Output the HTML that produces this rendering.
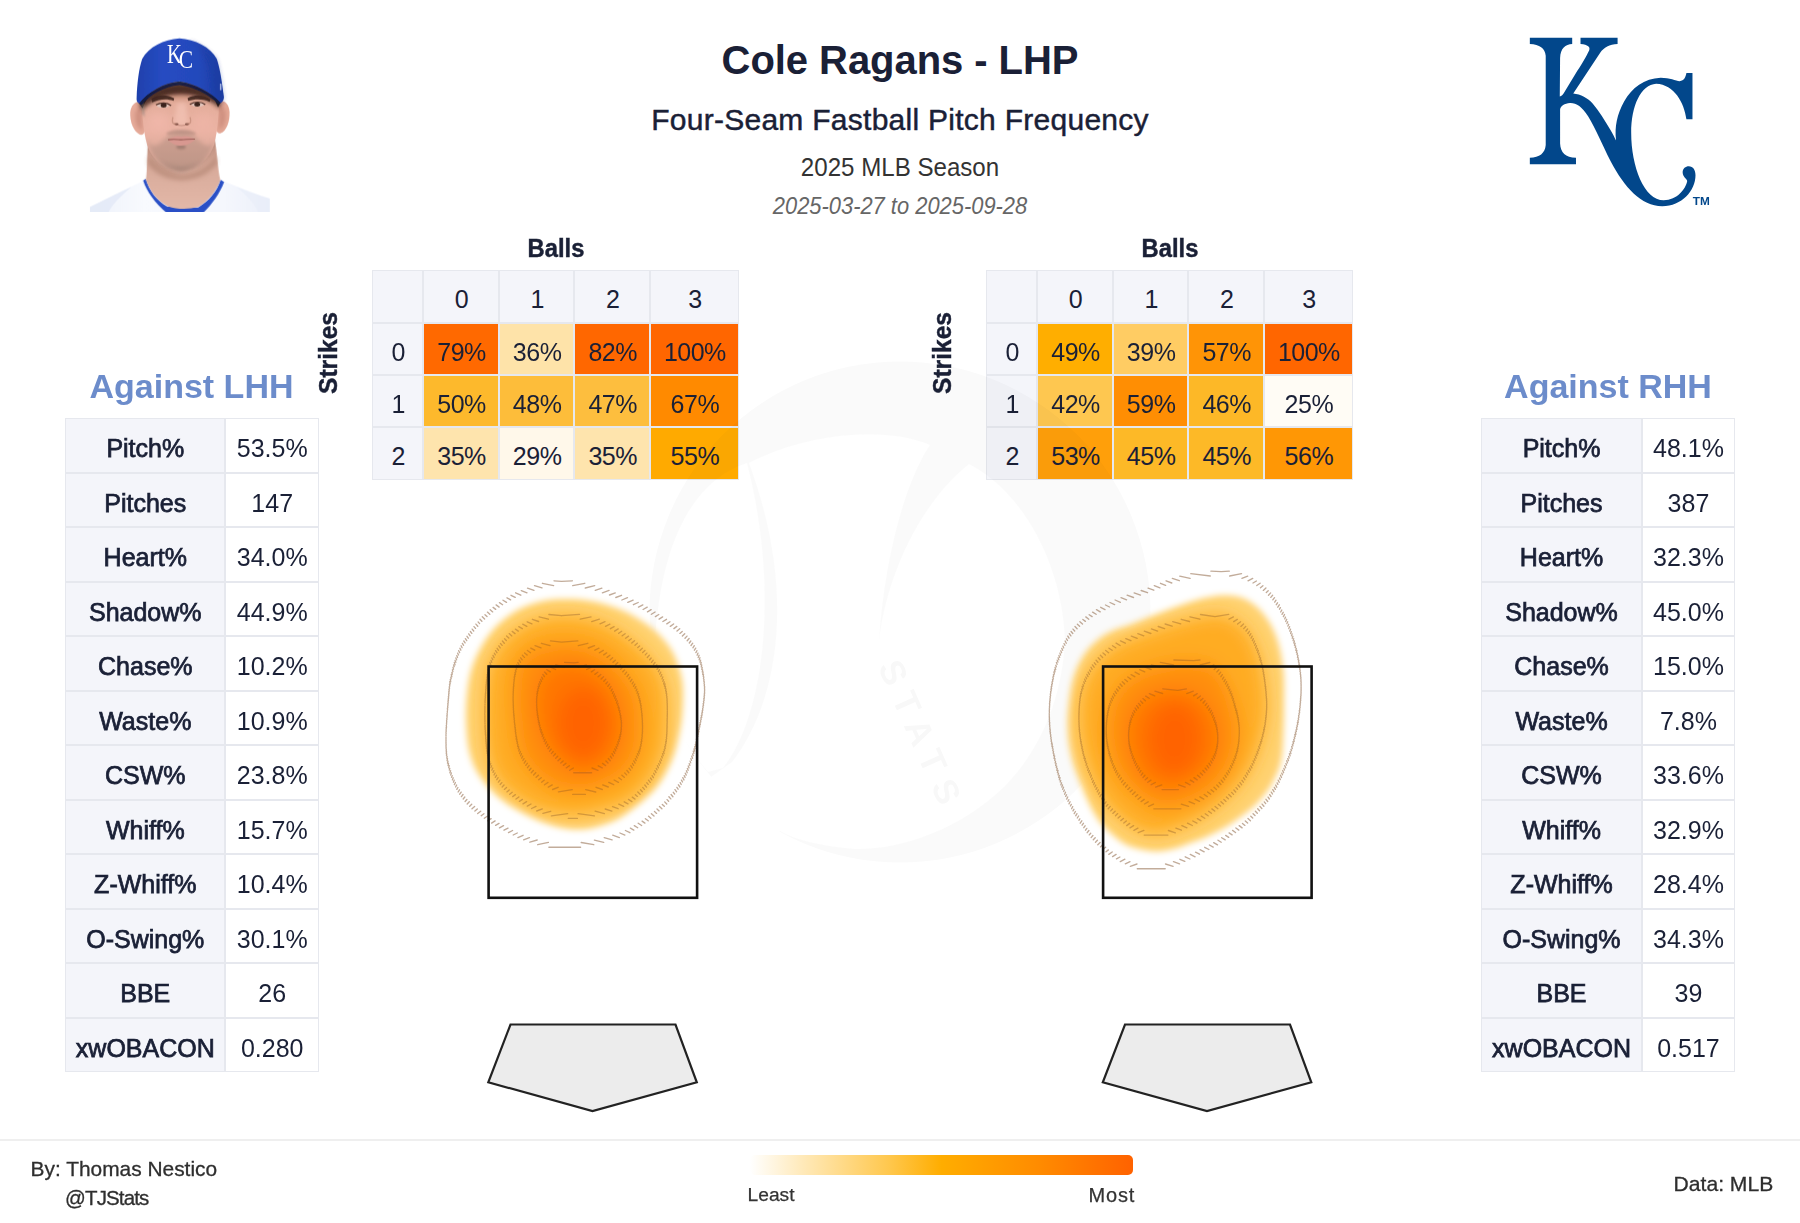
<!DOCTYPE html>
<html lang="en">
<head>
<meta charset="utf-8">
<title>Cole Ragans - LHP - Four-Seam Fastball Pitch Frequency</title>
<style>
html,body{margin:0;padding:0;background:#fff}
body{width:1800px;height:1223px;position:relative;overflow:hidden;font-family:"Liberation Sans",sans-serif;color:#1a2036}
.abs{position:absolute;white-space:nowrap}
.ctr{transform:translateX(-50%)}
.ct,.st{position:absolute;background:#e6e8ee}
.cc,.sl,.sv{position:absolute;box-sizing:border-box;border:1.5px solid #e6e8ee;display:flex;align-items:center;justify-content:center;background-clip:padding-box}
.cc span{font-size:25px;letter-spacing:-.5px;position:relative;top:3.2px;left:.5px}
.sl{background:#f4f5fa;font-size:25px;-webkit-text-stroke:.75px #1a2036}
.sv{background:#fff;font-size:25px}
.sl span{position:relative;top:3.2px}
.sv span{position:relative;top:2.9px}
.hd{font-weight:700;font-size:34px;color:#6c8ccb;letter-spacing:0}
svg{position:absolute;overflow:visible}
</style>
</head>
<body>

<!-- header -->
<svg width="1800" height="1223" viewBox="0 0 1800 1223" style="left:0;top:0" role="img" aria-label="Cole Ragans headshot">
<defs>
<filter id="hb1" filterUnits="userSpaceOnUse" x="0" y="0" width="1300" height="1250"><feGaussianBlur stdDeviation="4.5"/></filter>
<filter id="hb2" filterUnits="userSpaceOnUse" x="0" y="0" width="1300" height="1250"><feGaussianBlur stdDeviation="13"/></filter>
<filter id="hb3" filterUnits="userSpaceOnUse" x="0" y="0" width="1300" height="1250"><feGaussianBlur stdDeviation="26"/></filter>
<filter id="hb4" filterUnits="userSpaceOnUse" x="0" y="0" width="1300" height="1250"><feGaussianBlur stdDeviation="7"/></filter>
<linearGradient id="capg" x1="0" y1="0" x2="1" y2="0"><stop offset="0" stop-color="#1f40ac"/><stop offset=".3" stop-color="#264cc2"/><stop offset=".7" stop-color="#2449bc"/><stop offset="1" stop-color="#1d3ca2"/></linearGradient>
<linearGradient id="faceg" x1="0" y1="0" x2="0" y2="1"><stop offset="0" stop-color="#a86f58"/><stop offset=".24" stop-color="#e4ad9b"/><stop offset=".55" stop-color="#ebb3a4"/><stop offset="1" stop-color="#d2a494"/></linearGradient>
<linearGradient id="neckg" x1="0" y1="0" x2="0" y2="1"><stop offset="0" stop-color="#bf8f7e"/><stop offset=".45" stop-color="#d9ac9c"/><stop offset="1" stop-color="#e3b8a8"/></linearGradient>
<linearGradient id="jerg" x1="0" y1="0" x2="1" y2="0"><stop offset="0" stop-color="#eef2fb"/><stop offset=".3" stop-color="#f8fafe"/><stop offset=".75" stop-color="#f5f7fd"/><stop offset="1" stop-color="#ecf0fa"/></linearGradient>
<clipPath id="hclip"><rect x="64" y="0" width="1157" height="1169"/></clipPath>
</defs>
<g transform="translate(80,30) scale(0.15540)" clip-path="url(#hclip)">
<g filter="url(#hb1)">
<!-- jersey -->
<path d="M64,1180 L64,1138 C160,1090 280,1030 400,975 L420,962 L910,962 L940,980 C1040,1020 1130,1055 1221,1085 L1221,1180 Z" fill="url(#jerg)"/>
<path d="M64,1180 L64,1140 C160,1092 250,1048 330,1010 C260,1070 200,1130 180,1180 Z" fill="#e2e8f6" opacity=".8"/>
<path d="M1221,1180 L1221,1088 C1150,1066 1080,1040 1010,1012 C1080,1070 1130,1130 1150,1180 Z" fill="#e8edf8" opacity=".6"/>
<!-- blue collar -->
<path d="M406,968 C430,1040 480,1110 560,1180 L790,1180 C850,1120 900,1050 927,978 L905,964 C880,1040 830,1100 760,1142 L560,1136 C490,1095 445,1035 422,958 Z" fill="#2a50c6"/>
<!-- neck -->
<path d="M440,700 C428,800 434,900 424,962 C450,1040 500,1100 565,1134 C630,1156 700,1154 762,1138 C830,1096 875,1040 903,966 C886,900 884,800 866,700 Z" fill="url(#neckg)"/>
<path d="M440,810 C520,900 640,930 650,930 C740,925 830,880 878,810 L880,860 C820,940 740,965 650,968 C560,965 480,930 436,860 Z" fill="#a87a68" opacity=".5" filter="url(#hb2)"/>
<!-- ears -->
<path d="M408,466 C372,448 328,470 323,530 C320,592 345,652 382,672 C402,680 416,664 420,640 Z" fill="#e6ab9a"/>
<path d="M884,462 C920,444 957,466 962,526 C965,588 942,648 906,664 C890,670 878,656 874,638 Z" fill="#e4a896"/>
<path d="M398,500 C366,495 350,530 356,572 C362,612 380,642 402,648 Z" fill="#c07f70" opacity=".6" filter="url(#hb2)"/>
<path d="M894,496 C926,491 942,526 936,568 C930,608 912,638 890,644 Z" fill="#c07f70" opacity=".6" filter="url(#hb2)"/>
<!-- face -->
<path d="M398,380 C396,520 404,640 432,740 C462,830 540,900 650,912 C760,900 830,830 862,740 C888,640 896,520 894,380 C800,320 500,320 398,380 Z" fill="url(#faceg)"/>
<ellipse cx="505" cy="590" rx="72" ry="62" fill="#f2b8ab" opacity=".75" filter="url(#hb3)"/>
<ellipse cx="795" cy="590" rx="66" ry="60" fill="#f0b6a8" opacity=".65" filter="url(#hb3)"/>
<!-- stubble: jaw, moustache, chin -->
<path d="M430,690 C462,790 520,730 566,680 C620,650 690,650 736,680 C782,730 838,790 866,690 C852,800 780,892 650,910 C520,894 446,800 430,690 Z" fill="#8e7468" opacity=".30" filter="url(#hb2)"/>
<path d="M462,790 C515,872 598,902 650,904 C702,902 785,872 838,790 C805,852 722,884 650,886 C578,884 495,852 462,790 Z" fill="#77625a" opacity=".45" filter="url(#hb2)"/>
<path d="M560,668 C600,640 700,640 742,668 C700,660 600,660 560,668 Z" fill="#8a6e64" stroke="#8a6e64" stroke-width="14" opacity=".35" filter="url(#hb4)"/>
<ellipse cx="650" cy="752" rx="30" ry="15" fill="#806258" opacity=".5" filter="url(#hb4)"/>
<!-- shadow under brim -->
<path d="M380,470 C440,396 540,350 640,344 C740,350 840,390 906,462 L900,505 C840,445 740,415 650,413 C560,415 470,445 396,517 Z" fill="#4a2a20" opacity=".9" filter="url(#hb2)"/>
<path d="M420,420 C480,380 560,362 640,360 C720,362 800,380 870,420 L868,452 C800,420 720,404 648,403 C570,404 490,424 424,458 Z" fill="#4a2a20" opacity=".55" filter="url(#hb4)"/>
<path d="M374,462 C400,420 440,392 482,370 C452,410 422,452 402,504 Z" fill="#241618" opacity=".9" filter="url(#hb1)"/>
<path d="M912,452 C888,414 850,388 808,368 C838,405 868,447 888,498 Z" fill="#241618" opacity=".9" filter="url(#hb1)"/>
<path d="M396,470 L412,470 L414,560 L400,540 Z" fill="#8d8078" opacity=".6" filter="url(#hb4)"/>
<!-- brows & eyes -->
<path d="M460,442 C505,414 562,414 606,440 L602,456 C560,440 510,444 464,466 Z" fill="#40261e" opacity=".9"/>
<path d="M692,438 C738,412 795,414 838,446 L834,462 C792,442 740,442 696,456 Z" fill="#40261e" opacity=".9"/>
<ellipse cx="533" cy="486" rx="40" ry="13" fill="#e3c6bd"/>
<ellipse cx="757" cy="480" rx="40" ry="13" fill="#e3c6bd"/>
<ellipse cx="538" cy="485" rx="19" ry="14" fill="#3a241c"/>
<ellipse cx="754" cy="479" rx="19" ry="14" fill="#3a241c"/>
<path d="M488,482 C520,464 560,464 586,486" stroke="#4a2c24" stroke-width="8" fill="none"/>
<path d="M706,478 C740,460 780,460 806,480" stroke="#4a2c24" stroke-width="8" fill="none"/>
<!-- nose -->
<path d="M624,470 C616,540 604,580 610,602 C630,622 670,622 692,602 C696,580 686,540 680,470 Z" fill="#f1c0b1" opacity=".9" filter="url(#hb2)"/>
<ellipse cx="621" cy="606" rx="13" ry="7" fill="#6d4035" opacity=".85"/>
<ellipse cx="688" cy="606" rx="13" ry="7" fill="#6d4035" opacity=".85"/>
<path d="M604,600 C625,620 680,620 702,600" stroke="#a86f60" stroke-width="7" fill="none" opacity=".6"/>
<path d="M598,560 C590,585 596,602 610,608" stroke="#b47d6c" stroke-width="8" fill="none" opacity=".55"/>
<path d="M708,560 C716,585 710,602 696,608" stroke="#b47d6c" stroke-width="8" fill="none" opacity=".55"/>
<!-- mouth -->
<path d="M566,706 C600,684 632,678 652,688 C672,678 704,682 740,704 C714,730 690,742 652,744 C614,742 590,730 566,706 Z" fill="#d89890"/>
<path d="M566,706 C610,700 630,706 652,706 C680,706 700,700 740,702" stroke="#8f544c" stroke-width="7" fill="none" opacity=".85"/>
<!-- cap crown (bottom edge = brim arc) -->
<path d="M380,474 C368,466 362,452 364,436 C368,340 378,250 400,185 C440,110 540,60 640,54 C740,60 840,110 880,185 C902,250 914,340 926,432 C926,448 918,462 906,470 C840,400 740,346 640,330 C540,340 440,396 380,474 Z" fill="url(#capg)"/>
<path d="M700,62 C800,100 850,150 880,185 C902,250 914,340 926,432 C926,448 918,462 906,470 C888,450 870,432 850,416 C850,300 820,160 700,62 Z" fill="#1c3a9c" opacity=".3" filter="url(#hb2)"/>
<path d="M380,474 C440,396 540,340 640,330 C740,346 840,400 906,470 C900,474 894,476 888,474 C830,416 740,368 640,354 C540,364 452,414 398,480 C390,480 384,478 380,474 Z" fill="#141c44" opacity=".92"/>
<rect x="900" y="345" width="10" height="42" fill="#cfd8f3" opacity=".75"/>
</g>
<!-- cap insignia -->
<g filter="url(#hb1)" fill="#fff" font-family="'Liberation Serif',serif">
<text x="560" y="215" font-size="170" textLength="95" lengthAdjust="spacingAndGlyphs">K</text>
<text x="636" y="243" font-size="165" textLength="92" lengthAdjust="spacingAndGlyphs">C</text>
</g>
</g>
</svg>
<div class="abs ctr" style="left:900px;top:37px;font-size:40px;font-weight:700;letter-spacing:-.06px;line-height:46px">Cole Ragans - LHP</div>
<div class="abs ctr" style="left:900px;top:102px;font-size:30px;letter-spacing:.27px;line-height:36px;-webkit-text-stroke:.45px #1a2036">Four-Seam Fastball Pitch Frequency</div>
<div class="abs" style="left:900px;top:151.6px;font-size:25.5px;line-height:30px;color:#333;transform:translateX(-50%) scaleX(.945)">2025 MLB Season</div>
<div class="abs" style="left:900px;top:192.4px;font-size:23.6px;font-style:italic;line-height:28px;color:#666;transform:translateX(-50%) scaleX(.928)">2025-03-27 to 2025-09-28</div>
<svg width="1800" height="1223" viewBox="0 0 1800 1223" style="left:0;top:0" role="img" aria-label="Kansas City Royals logo">
<g transform="translate(1520,30) scale(0.15129)"><path d="M65,52 L345,52 L345,93 C300,97 268,120 265,185 L263,440 C275,436 283,428 290,417 L379,270 C410,222 440,170 457,135 C466,114 450,97 400,93 L400,52 L645,52 L645,93 C590,97 555,115 530,150 L352,420 C400,424 450,452 480,485 C520,530 560,595 600,665 C615,690 625,712 635,730 C625,640 640,560 690,470 C740,380 820,320 930,315 C990,315 1030,335 1055,338 C1085,338 1095,310 1100,285 L1140,285 L1140,590 L1100,590 C1085,480 1020,360 900,355 C800,360 735,500 735,680 C735,900 820,1125 950,1125 C1040,1125 1095,1050 1105,1000 C1108,985 1075,975 1075,940 C1075,915 1095,900 1115,900 C1145,900 1160,925 1160,960 C1160,1060 1070,1165 940,1165 C800,1165 690,1040 600,870 C540,750 500,650 450,570 C410,505 370,480 330,482 C295,485 268,500 265,525 L265,750 C268,810 300,842 370,845 L370,888 L65,888 L65,845 C130,842 165,815 170,760 L170,170 C165,120 130,97 65,93 Z" fill="#02478b"/></g>
<text x="1692.8" y="205" font-family="'Liberation Sans',sans-serif" font-size="11.8" font-weight="700" fill="#02478b" letter-spacing=".1">TM</text>
</svg>

<!-- count tables -->
<div class="abs" style="left:555.5px;top:233.9px;font-size:25px;font-weight:700;line-height:28px;transform:translateX(-50%) scaleX(.95);-webkit-text-stroke:.45px #1a2036">Balls</div>
<div class="abs" style="left:327.5px;top:353px;font-size:26.6px;font-weight:700;line-height:28px;transform:translate(-50%,-50%) rotate(-90deg) scaleX(.925);-webkit-text-stroke:.45px #1a2036">Strikes</div>
<div class="ct" style="left:372.2px;top:270.1px;width:366.5px;height:209.9px">
<div class="cc" style="left:0.0px;top:0.0px;width:51.0px;height:52.7px;background:#f4f5fa"><span></span></div>
<div class="cc" style="left:51.0px;top:0.0px;width:75.7px;height:52.7px;background:#f4f5fa"><span>0</span></div>
<div class="cc" style="left:126.7px;top:0.0px;width:75.5px;height:52.7px;background:#f4f5fa"><span>1</span></div>
<div class="cc" style="left:202.2px;top:0.0px;width:75.7px;height:52.7px;background:#f4f5fa"><span>2</span></div>
<div class="cc" style="left:277.9px;top:0.0px;width:88.6px;height:52.7px;background:#f4f5fa"><span>3</span></div>
<div class="cc" style="left:0.0px;top:52.7px;width:51.0px;height:52.3px;background:#f4f5fa"><span>0</span></div>
<div class="cc" style="left:51.0px;top:52.7px;width:75.7px;height:52.3px;background:#ff6900"><span>79%</span></div>
<div class="cc" style="left:126.7px;top:52.7px;width:75.5px;height:52.3px;background:#fee3a9"><span>36%</span></div>
<div class="cc" style="left:202.2px;top:52.7px;width:75.7px;height:52.3px;background:#ff6700"><span>82%</span></div>
<div class="cc" style="left:277.9px;top:52.7px;width:88.6px;height:52.3px;background:#ff6600"><span>100%</span></div>
<div class="cc" style="left:0.0px;top:105.0px;width:51.0px;height:52.4px;background:#f4f5fa"><span>1</span></div>
<div class="cc" style="left:51.0px;top:105.0px;width:75.7px;height:52.4px;background:#fdb92c"><span>50%</span></div>
<div class="cc" style="left:126.7px;top:105.0px;width:75.5px;height:52.4px;background:#fdbd3a"><span>48%</span></div>
<div class="cc" style="left:202.2px;top:105.0px;width:75.7px;height:52.4px;background:#fdbe3e"><span>47%</span></div>
<div class="cc" style="left:277.9px;top:105.0px;width:88.6px;height:52.4px;background:#ff8a00"><span>67%</span></div>
<div class="cc" style="left:0.0px;top:157.4px;width:51.0px;height:52.5px;background:#f4f5fa"><span>2</span></div>
<div class="cc" style="left:51.0px;top:157.4px;width:75.7px;height:52.5px;background:#fee4ad"><span>35%</span></div>
<div class="cc" style="left:126.7px;top:157.4px;width:75.5px;height:52.5px;background:#fff8ea"><span>29%</span></div>
<div class="cc" style="left:202.2px;top:157.4px;width:75.7px;height:52.5px;background:#fee4ad"><span>35%</span></div>
<div class="cc" style="left:277.9px;top:157.4px;width:88.6px;height:52.5px;background:#ffaa00"><span>55%</span></div>
</div>
<div class="abs" style="left:1170px;top:233.9px;font-size:25px;font-weight:700;line-height:28px;transform:translateX(-50%) scaleX(.95);-webkit-text-stroke:.45px #1a2036">Balls</div>
<div class="abs" style="left:942px;top:353px;font-size:26.6px;font-weight:700;line-height:28px;transform:translate(-50%,-50%) rotate(-90deg) scaleX(.925);-webkit-text-stroke:.45px #1a2036">Strikes</div>
<div class="ct" style="left:986.2px;top:270.1px;width:366.5px;height:209.9px">
<div class="cc" style="left:0.0px;top:0.0px;width:51.0px;height:52.7px;background:#f4f5fa"><span></span></div>
<div class="cc" style="left:51.0px;top:0.0px;width:75.7px;height:52.7px;background:#f4f5fa"><span>0</span></div>
<div class="cc" style="left:126.7px;top:0.0px;width:75.5px;height:52.7px;background:#f4f5fa"><span>1</span></div>
<div class="cc" style="left:202.2px;top:0.0px;width:75.7px;height:52.7px;background:#f4f5fa"><span>2</span></div>
<div class="cc" style="left:277.9px;top:0.0px;width:88.6px;height:52.7px;background:#f4f5fa"><span>3</span></div>
<div class="cc" style="left:0.0px;top:52.7px;width:51.0px;height:52.3px;background:#f4f5fa"><span>0</span></div>
<div class="cc" style="left:51.0px;top:52.7px;width:75.7px;height:52.3px;background:#ffae00"><span>49%</span></div>
<div class="cc" style="left:126.7px;top:52.7px;width:75.5px;height:52.3px;background:#ffcc63"><span>39%</span></div>
<div class="cc" style="left:202.2px;top:52.7px;width:75.7px;height:52.3px;background:#ff9406"><span>57%</span></div>
<div class="cc" style="left:277.9px;top:52.7px;width:88.6px;height:52.3px;background:#ff6600"><span>100%</span></div>
<div class="cc" style="left:0.0px;top:105.0px;width:51.0px;height:52.4px;background:#f4f5fa"><span>1</span></div>
<div class="cc" style="left:51.0px;top:105.0px;width:75.7px;height:52.4px;background:#fec750"><span>42%</span></div>
<div class="cc" style="left:126.7px;top:105.0px;width:75.5px;height:52.4px;background:#ff8e03"><span>59%</span></div>
<div class="cc" style="left:202.2px;top:105.0px;width:75.7px;height:52.4px;background:#fdb827"><span>46%</span></div>
<div class="cc" style="left:277.9px;top:105.0px;width:88.6px;height:52.4px;background:#fffcf5"><span>25%</span></div>
<div class="cc" style="left:0.0px;top:157.4px;width:51.0px;height:52.5px;background:#f4f5fa"><span>2</span></div>
<div class="cc" style="left:51.0px;top:157.4px;width:75.7px;height:52.5px;background:#ff9f0a"><span>53%</span></div>
<div class="cc" style="left:126.7px;top:157.4px;width:75.5px;height:52.5px;background:#fdb927"><span>45%</span></div>
<div class="cc" style="left:202.2px;top:157.4px;width:75.7px;height:52.5px;background:#fdb927"><span>45%</span></div>
<div class="cc" style="left:277.9px;top:157.4px;width:88.6px;height:52.5px;background:#ff9705"><span>56%</span></div>
</div>

<!-- stats tables -->
<div class="abs ctr hd" style="left:191.5px;top:367.2px;line-height:38px">Against LHH</div>
<div class="st" style="left:65.2px;top:418.4px;width:253.9px;height:654.0px">
<div class="sl" style="left:0;top:0.0px;width:160.2px;height:54.5px"><span>Pitch%</span></div><div class="sv" style="left:160.2px;top:0.0px;width:93.7px;height:54.5px"><span>53.5%</span></div>
<div class="sl" style="left:0;top:54.5px;width:160.2px;height:54.5px"><span>Pitches</span></div><div class="sv" style="left:160.2px;top:54.5px;width:93.7px;height:54.5px"><span>147</span></div>
<div class="sl" style="left:0;top:109.0px;width:160.2px;height:54.5px"><span>Heart%</span></div><div class="sv" style="left:160.2px;top:109.0px;width:93.7px;height:54.5px"><span>34.0%</span></div>
<div class="sl" style="left:0;top:163.5px;width:160.2px;height:54.5px"><span>Shadow%</span></div><div class="sv" style="left:160.2px;top:163.5px;width:93.7px;height:54.5px"><span>44.9%</span></div>
<div class="sl" style="left:0;top:218.0px;width:160.2px;height:54.5px"><span>Chase%</span></div><div class="sv" style="left:160.2px;top:218.0px;width:93.7px;height:54.5px"><span>10.2%</span></div>
<div class="sl" style="left:0;top:272.5px;width:160.2px;height:54.5px"><span>Waste%</span></div><div class="sv" style="left:160.2px;top:272.5px;width:93.7px;height:54.5px"><span>10.9%</span></div>
<div class="sl" style="left:0;top:327.0px;width:160.2px;height:54.5px"><span>CSW%</span></div><div class="sv" style="left:160.2px;top:327.0px;width:93.7px;height:54.5px"><span>23.8%</span></div>
<div class="sl" style="left:0;top:381.5px;width:160.2px;height:54.5px"><span>Whiff%</span></div><div class="sv" style="left:160.2px;top:381.5px;width:93.7px;height:54.5px"><span>15.7%</span></div>
<div class="sl" style="left:0;top:436.0px;width:160.2px;height:54.5px"><span>Z-Whiff%</span></div><div class="sv" style="left:160.2px;top:436.0px;width:93.7px;height:54.5px"><span>10.4%</span></div>
<div class="sl" style="left:0;top:490.5px;width:160.2px;height:54.5px"><span>O-Swing%</span></div><div class="sv" style="left:160.2px;top:490.5px;width:93.7px;height:54.5px"><span>30.1%</span></div>
<div class="sl" style="left:0;top:545.0px;width:160.2px;height:54.5px"><span>BBE</span></div><div class="sv" style="left:160.2px;top:545.0px;width:93.7px;height:54.5px"><span>26</span></div>
<div class="sl" style="left:0;top:599.5px;width:160.2px;height:54.5px"><span>xwOBACON</span></div><div class="sv" style="left:160.2px;top:599.5px;width:93.7px;height:54.5px"><span>0.280</span></div>
</div>
<div class="abs ctr hd" style="left:1608px;top:367.2px;line-height:38px">Against RHH</div>
<div class="st" style="left:1481.2px;top:418.4px;width:253.9px;height:654.0px">
<div class="sl" style="left:0;top:0.0px;width:160.7px;height:54.5px"><span>Pitch%</span></div><div class="sv" style="left:160.7px;top:0.0px;width:93.2px;height:54.5px"><span>48.1%</span></div>
<div class="sl" style="left:0;top:54.5px;width:160.7px;height:54.5px"><span>Pitches</span></div><div class="sv" style="left:160.7px;top:54.5px;width:93.2px;height:54.5px"><span>387</span></div>
<div class="sl" style="left:0;top:109.0px;width:160.7px;height:54.5px"><span>Heart%</span></div><div class="sv" style="left:160.7px;top:109.0px;width:93.2px;height:54.5px"><span>32.3%</span></div>
<div class="sl" style="left:0;top:163.5px;width:160.7px;height:54.5px"><span>Shadow%</span></div><div class="sv" style="left:160.7px;top:163.5px;width:93.2px;height:54.5px"><span>45.0%</span></div>
<div class="sl" style="left:0;top:218.0px;width:160.7px;height:54.5px"><span>Chase%</span></div><div class="sv" style="left:160.7px;top:218.0px;width:93.2px;height:54.5px"><span>15.0%</span></div>
<div class="sl" style="left:0;top:272.5px;width:160.7px;height:54.5px"><span>Waste%</span></div><div class="sv" style="left:160.7px;top:272.5px;width:93.2px;height:54.5px"><span>7.8%</span></div>
<div class="sl" style="left:0;top:327.0px;width:160.7px;height:54.5px"><span>CSW%</span></div><div class="sv" style="left:160.7px;top:327.0px;width:93.2px;height:54.5px"><span>33.6%</span></div>
<div class="sl" style="left:0;top:381.5px;width:160.7px;height:54.5px"><span>Whiff%</span></div><div class="sv" style="left:160.7px;top:381.5px;width:93.2px;height:54.5px"><span>32.9%</span></div>
<div class="sl" style="left:0;top:436.0px;width:160.7px;height:54.5px"><span>Z-Whiff%</span></div><div class="sv" style="left:160.7px;top:436.0px;width:93.2px;height:54.5px"><span>28.4%</span></div>
<div class="sl" style="left:0;top:490.5px;width:160.7px;height:54.5px"><span>O-Swing%</span></div><div class="sv" style="left:160.7px;top:490.5px;width:93.2px;height:54.5px"><span>34.3%</span></div>
<div class="sl" style="left:0;top:545.0px;width:160.7px;height:54.5px"><span>BBE</span></div><div class="sv" style="left:160.7px;top:545.0px;width:93.2px;height:54.5px"><span>39</span></div>
<div class="sl" style="left:0;top:599.5px;width:160.7px;height:54.5px"><span>xwOBACON</span></div><div class="sv" style="left:160.7px;top:599.5px;width:93.2px;height:54.5px"><span>0.517</span></div>
</div>

<!-- watermark -->
<svg width="1800" height="1223" viewBox="0 0 1800 1223" style="left:0;top:0">
<defs><mask id="wmk" maskUnits="userSpaceOnUse" x="640" y="350" width="520" height="520">
<rect x="640" y="350" width="520" height="520" fill="#fff"/>
<path d="M747,463 C700,478 662,530 655,640 C657,690 676,735 708,772 L723,768 C764,716 780,592 747,463 Z" fill="#000"/>
<path d="M749,463 C800,436 880,424 930,445 C905,482 884,560 879,642 C884,590 912,510 969,464 C1020,490 1062,560 1065,640 C1062,700 1040,750 1005,786 C960,830 900,850 855,849 C820,846 795,840 780,831 L772,836 L746,816 L722,793 L711,777 L732,762 C780,700 796,590 749,463 Z" fill="#000"/>
</mask></defs>
<circle cx="900" cy="612" r="250.5" fill="#1a1a2a" fill-opacity=".024" mask="url(#wmk)"/>
<text transform="translate(911,742) rotate(66)" text-anchor="middle" font-family="'Liberation Sans',sans-serif" font-weight="700" font-size="35" letter-spacing="11" fill="#1a1a2a" fill-opacity=".03">STATS</text>
</svg>

<!-- heat maps -->
<svg width="1800" height="1223" viewBox="0 0 1800 1223" style="left:0;top:0">
<defs><filter id="bl3" x="-20%" y="-20%" width="140%" height="140%"><feGaussianBlur stdDeviation="3.2"/></filter>
<filter id="bl10" x="-30%" y="-30%" width="160%" height="160%"><feGaussianBlur stdDeviation="9"/></filter></defs>
<mask id="hm1" maskUnits="userSpaceOnUse" x="400" y="520" width="380" height="420"><path d="M567.8 599.0C576.3 599.0 584.3 599.6 592.6 601.2C600.9 602.8 609.7 605.3 617.5 608.3C625.2 611.3 632.5 615.1 639.2 619.2C645.9 623.4 652.1 627.5 657.8 633.2C663.5 638.9 669.3 645.6 673.4 653.4C677.4 661.2 680.5 670.7 682.1 679.8C683.6 688.9 683.1 699.0 682.7 707.8C682.3 716.6 681.4 723.8 679.6 732.6C677.8 741.4 676.0 751.1 671.8 760.6C667.7 770.0 662.8 780.3 654.7 789.5C646.7 798.6 632.5 809.5 623.7 815.6C614.9 821.6 609.2 823.2 601.9 825.5C594.7 827.8 587.9 829.4 580.2 829.5C572.4 829.7 563.6 828.5 555.3 826.4C547.0 824.4 539.3 821.4 530.5 817.1C521.7 812.8 510.8 807.2 502.5 800.6C494.2 794.1 486.2 785.4 480.8 777.7C475.3 769.9 472.3 762.9 469.9 754.4C467.5 745.8 466.7 736.2 466.2 726.4C465.7 716.6 465.7 705.7 466.8 695.3C467.9 685.0 469.1 674.6 473.0 664.3C476.9 653.9 483.1 642.0 490.1 633.2C497.1 624.4 506.4 616.8 514.9 611.5C523.5 606.1 532.5 603.3 541.3 601.2C550.2 599.1 559.2 599.0 567.8 599.0Z" fill="#fff" filter="url(#bl3)"/></mask>
<g mask="url(#hm1)">
<rect x="400" y="520" width="380" height="420" fill="#ffd272"/>
<g filter="url(#bl10)">
<path d="M561.5 615.5C572.9 615.3 587.4 617.4 598.8 621.4C610.2 625.4 620.6 632.3 629.9 639.4C639.2 646.6 648.8 656.0 654.7 664.3C660.7 672.5 663.5 679.8 665.6 689.1C667.7 698.4 667.4 709.8 667.2 720.2C666.9 730.5 667.2 740.9 664.1 751.2C661.0 761.6 655.3 773.5 648.5 782.3C641.8 791.1 635.1 798.5 623.7 804.1C612.3 809.6 594.2 814.8 580.2 815.9C566.2 816.9 552.2 814.8 539.8 810.3C527.4 805.7 513.9 796.3 505.6 788.5C497.3 780.8 493.5 773.0 490.1 763.7C486.7 754.4 486.2 744.0 485.4 732.6C484.7 721.2 484.7 706.7 485.4 695.3C486.2 683.9 486.7 673.6 490.1 664.3C493.5 654.9 498.9 646.4 505.6 639.4C512.4 632.4 521.2 626.3 530.5 622.3C539.8 618.3 550.2 615.6 561.5 615.5Z" fill="#ffac22"/>
<path d="M561.5 641.9C571.4 641.6 583.3 643.4 592.6 647.2C601.9 650.9 610.2 657.3 617.5 664.3C624.7 671.3 632.0 679.8 636.1 689.1C640.2 698.4 641.8 709.8 642.3 720.2C642.8 730.5 642.3 741.9 639.2 751.2C636.1 760.6 630.4 769.9 623.7 776.1C616.9 782.3 606.1 785.8 598.8 788.5C591.6 791.2 587.4 792.3 580.2 792.3C572.9 792.3 563.1 791.7 555.3 788.5C547.6 785.3 539.5 779.2 533.6 773.0C527.6 766.8 522.8 760.0 519.6 751.2C516.4 742.4 515.4 730.5 514.3 720.2C513.3 709.8 512.8 698.4 513.4 689.1C514.0 679.8 514.7 671.0 518.0 664.3C521.4 657.5 526.3 652.5 533.6 648.7C540.8 645.0 551.7 642.2 561.5 641.9Z" fill="#ff8e0a"/>
<path d="M574.0 664.3C580.2 664.8 586.4 666.3 592.6 670.5C598.8 674.6 606.5 680.8 611.2 689.1C616.0 697.4 620.2 710.9 621.2 720.2C622.2 729.5 620.2 737.8 617.5 745.0C614.8 752.3 610.7 759.1 605.0 763.7C599.3 768.2 589.5 771.9 583.3 772.4C577.1 772.9 573.4 770.8 567.8 766.8C562.1 762.7 553.8 754.9 549.1 748.1C544.5 741.4 541.9 734.7 539.8 726.4C537.7 718.1 536.2 706.7 536.7 698.4C537.2 690.2 539.8 681.9 542.9 676.7C546.0 671.5 550.2 669.4 555.3 667.4C560.5 665.3 567.8 663.7 574.0 664.3Z" fill="#ff7604"/>
<ellipse cx="583.3" cy="723.3" rx="26" ry="36" fill="#ff6400"/>
</g></g>
<g fill="none" stroke="#7a4a22" stroke-width="1.35" stroke-linecap="round">
<path d="M561.5 581.4L572.3 580.8M572.7 585.6L584.8 583.3M585.3 588.0L594.7 585.6M595.2 590.3L601.9 588.1M602.4 592.8L609.1 590.4M609.5 595.0L615.3 592.9M615.8 597.5L621.5 595.3M621.9 600.0L627.5 597.7M627.8 602.4L633.1 600.1M633.4 604.7L638.2 602.5M638.5 607.1L642.8 604.9M643.1 609.5L647.2 607.2M647.5 611.8L651.1 609.7M651.4 614.3L655.1 612.0M655.4 616.6L658.8 614.5M659.1 619.1L662.6 616.9M662.9 621.5L666.5 619.3M666.8 623.9L670.0 621.8M670.3 626.4L673.6 624.0M673.9 628.6L676.8 626.4M677.0 631.0L679.7 628.8M679.9 633.4L682.2 631.4M682.4 636.0L684.7 633.7M685.0 638.2L687.0 636.1M687.2 640.7L689.1 638.5M689.3 643.0L690.8 641.0M691.0 645.5L692.7 643.2M692.9 647.8L694.3 645.7M694.4 650.2L695.7 648.1M695.9 652.6L696.9 650.7M697.1 655.2L698.0 653.1M698.2 657.6L699.1 655.3M699.2 659.8L699.9 657.6M700.0 662.1L700.6 660.1M700.7 664.5L701.2 662.4M701.3 666.8L701.7 665.0M701.8 669.4L702.2 667.5M702.3 671.9L702.6 670.0M702.7 674.4L703.1 672.0M703.2 676.3L703.5 674.5M703.5 678.8L703.8 676.9M703.8 681.3L704.0 679.5M704.1 683.8L704.3 681.7M704.3 686.0L704.4 684.4M704.5 688.8L704.6 686.5M704.6 690.9L704.6 689.0M704.6 693.5L704.5 691.3M704.5 695.8L704.3 693.7M704.3 698.1L704.1 696.0M704.1 700.5L703.8 698.4M703.8 702.9L703.5 701.1M703.5 705.5L703.2 703.3M703.1 707.8L702.9 705.8M702.8 710.3L702.6 708.3M702.5 712.7L702.2 710.7M702.1 715.1L701.8 713.0M701.7 717.4L701.3 715.3M701.2 719.7L700.9 717.6M700.8 722.0L700.4 720.3M700.4 724.7L699.9 722.6M699.8 726.9L699.4 724.8M699.3 729.2L699.0 727.5M698.9 731.9L698.4 729.8M698.3 734.2L697.9 732.1M697.8 736.5L697.4 734.5M697.3 738.9L696.8 736.8M696.8 741.2L696.3 739.2M696.2 743.6L695.9 742.0M695.8 746.4L695.3 744.3M695.2 748.7L694.7 746.7M694.6 751.1L694.0 749.0M693.9 753.4L693.3 751.2M693.2 755.6L692.6 753.9M692.5 758.3L691.7 756.1M691.5 760.4L690.9 758.6M690.7 762.9L690.1 761.1M689.9 765.4L689.2 763.6M689.0 767.9L688.3 766.0M688.1 770.3L687.4 768.4M687.2 772.7L686.4 770.8M686.2 775.1L685.3 773.2M685.1 777.5L684.2 775.6M684.0 780.0L682.8 777.6M682.5 782.0L681.5 780.1M681.2 784.5L680.2 782.7M679.9 787.0L678.4 784.8M678.1 789.2L676.9 787.4M676.6 791.8L675.0 789.6M674.6 794.0L673.3 792.3M672.9 796.7L671.1 794.5M670.8 798.9L668.9 796.8M668.6 801.2L667.1 799.6M666.7 804.0L664.7 801.9M664.3 806.3L662.3 804.4M661.9 808.8L659.5 806.4M659.1 810.9L657.0 809.0M656.6 813.4L654.5 811.5M654.0 816.0L651.4 813.7M650.9 818.2L648.6 816.3M648.2 820.8L645.4 818.7M644.9 823.1L642.1 821.1M641.6 825.5L638.2 823.2M637.7 827.7L634.3 825.6M633.8 830.1L630.4 828.2M629.9 832.7L625.4 830.5M624.9 835.1L619.9 833.0M619.4 837.6L612.7 835.2M612.1 839.9L604.2 837.6M603.7 842.3L594.4 840.1M593.8 844.7L581.2 842.5M580.6 847.2L548.9 847.2M548.4 842.4L537.7 844.7M537.2 840.0L529.9 842.2M529.4 837.6L523.6 839.8M523.1 835.3L517.9 837.6M517.3 833.0L513.2 835.0M512.6 830.5L508.5 832.6M508.0 828.1L504.0 830.2M503.5 825.7L499.5 827.9M499.0 823.4L495.6 825.4M495.1 820.9L491.6 823.1M491.1 818.6L487.7 820.8M487.2 816.3L484.3 818.2M483.9 813.7L481.2 815.7M480.7 811.2L477.7 813.5M477.3 809.0L474.9 811.0M474.6 806.5L472.0 808.7M471.7 804.3L469.7 806.2M469.3 801.7L467.2 804.0M466.9 799.5L465.1 801.5M464.8 797.0L463.2 799.0M463.0 794.5L461.4 796.6M461.2 792.1L459.7 794.2M459.5 789.8L458.1 792.0M457.9 787.5L456.8 789.4M456.6 785.0L455.6 787.0M455.4 782.5L454.4 784.6M454.2 780.2L453.4 782.2M453.2 777.8L452.4 779.9M452.2 775.6L451.6 777.3M451.4 772.9L450.7 775.0M450.6 770.6L449.9 772.8M449.8 768.4L449.3 770.1M449.2 765.7L448.7 767.8M448.5 763.5L448.1 765.5M448.0 761.1L447.5 763.2M447.5 758.7L447.1 760.7M447.1 756.3L446.8 758.2M446.7 753.8L446.5 755.7M446.5 751.2L446.3 753.6M446.3 749.2L446.2 751.2M446.1 746.8L446.1 748.4M446.1 744.1L446.0 746.3M446.0 741.9L446.0 743.8M446.0 739.5L446.0 741.5M446.0 737.2L446.0 738.8M446.0 734.5L446.0 736.2M446.0 732.0L446.1 733.8M446.1 729.6L446.2 731.5M446.2 727.4L446.3 729.3M446.3 725.1L446.5 727.1M446.5 723.0L446.6 724.3M446.6 720.2L446.7 722.2M446.8 718.1L446.9 719.4M446.9 715.3L447.1 717.3M447.1 713.2L447.2 715.1M447.3 711.0L447.4 712.3M447.4 708.1L447.6 710.0M447.6 705.8L447.8 707.6M447.8 703.4L448.0 705.1M448.0 700.9L448.2 703.0M448.2 698.7L448.4 700.6M448.4 696.3L448.6 698.1M448.6 693.8L448.8 695.9M448.8 691.5L449.0 693.6M449.0 689.1L449.2 691.1M449.3 686.7L449.5 688.6M449.5 684.1L449.8 686.0M449.8 681.6L450.2 683.9M450.3 679.5L450.7 681.6M450.8 677.2L451.2 678.9M451.3 674.5L451.8 676.7M451.9 672.4L452.3 674.2M452.4 669.8L452.9 671.7M453.0 667.3L453.5 669.2M453.6 664.9L454.2 666.7M454.3 662.4L455.0 664.8M455.1 660.4L455.8 662.3M455.9 658.0L456.6 659.9M456.8 655.6L457.5 657.5M457.7 653.2L458.5 655.0M458.7 650.7L459.6 652.6M459.9 648.3L460.8 650.1M461.1 645.8L462.1 647.7M462.4 643.4L463.6 645.3M463.8 641.0L465.1 642.9M465.4 638.6L466.7 640.6M467.0 636.3L468.3 638.2M468.7 633.9L470.1 635.8M470.4 631.5L471.8 633.4M472.2 629.1L473.7 631.0M474.0 626.6L475.5 628.4M475.9 624.1L477.8 626.3M478.1 621.9L479.6 623.6M480.0 619.2L481.9 621.2M482.3 616.8L484.6 619.1M485.0 614.7L487.0 616.6M487.4 612.1L489.8 614.3M490.2 609.8L492.7 611.9M493.1 607.4L495.7 609.4M496.1 604.9L499.1 607.1M499.5 602.6L502.6 604.7M503.0 600.2L506.5 602.4M507.0 597.8L510.6 599.9M511.0 595.3L515.2 597.4M515.6 592.8L520.8 595.2M521.3 590.6L527.0 592.8M527.5 588.2L534.0 590.4M534.5 585.7L542.0 587.9M542.4 583.3L553.6 585.6M554.1 580.8L561.5 581.4" stroke-opacity=".46"/>
<path d="M561.5 615.7L579.5 614.4M580.2 619.1L591.0 616.9M591.7 621.6L599.4 619.2M600.0 623.8L605.0 621.7M605.5 626.3L609.9 624.2M610.4 628.7L614.1 626.6M614.6 631.1L618.2 628.9M618.7 633.3L621.7 631.3M622.2 635.8L625.1 633.7M625.6 638.2L628.5 636.1M628.9 640.5L631.3 638.7M631.8 643.1L634.5 640.8M635.0 645.3L637.3 643.3M637.8 647.6L639.6 646.0M640.0 650.4L642.3 648.3M642.7 652.6L644.9 650.5M645.3 654.9L646.9 653.1M647.3 657.5L649.3 655.3M649.7 659.7L651.1 658.0M651.5 662.4L653.2 660.2M653.5 664.6L655.0 662.5M655.3 666.9L656.7 664.9M657.0 669.3L658.2 667.3M658.4 671.7L659.5 669.7M659.7 674.1L660.7 672.1M660.9 676.5L661.8 674.5M662.0 678.9L662.8 676.9M662.9 681.3L663.5 679.6M663.6 684.0L664.3 681.9M664.4 686.2L665.0 684.0M665.1 688.4L665.5 686.5M665.6 690.9L666.0 689.0M666.1 693.3L666.4 691.4M666.5 695.7L666.7 693.7M666.8 698.0L666.9 696.4M667.0 700.7L667.1 698.6M667.1 702.9L667.2 700.8M667.2 705.1L667.3 703.5M667.3 707.7L667.3 705.6M667.3 709.9L667.3 708.3M667.3 712.5L667.3 710.9M667.3 715.2L667.3 713.1M667.3 717.3L667.2 715.2M667.2 719.5L667.2 717.9M667.2 722.2L667.1 720.1M667.1 724.4L667.1 722.9M667.1 727.2L667.0 725.1M667.0 729.4L667.0 727.3M667.0 731.6L666.9 730.0M666.9 734.3L666.8 732.2M666.7 736.5L666.6 734.5M666.6 738.7L666.4 737.2M666.4 741.5L666.1 739.4M666.0 743.7L665.7 741.6M665.6 745.9L665.3 744.3M665.2 748.6L664.8 746.5M664.6 750.8L664.2 749.3M664.1 753.6L663.4 751.5M663.2 755.7L662.5 753.6M662.3 757.9L661.7 756.3M661.5 760.5L660.8 758.9M660.6 763.1L659.7 761.0M659.4 765.2L658.7 763.6M658.4 767.9L657.4 765.7M657.1 770.0L656.3 768.4M656.0 772.6L654.9 770.6M654.6 774.8L653.7 773.3M653.4 777.6L652.1 775.6M651.8 779.9L650.5 778.0M650.2 782.4L648.5 780.1M648.2 784.4L646.8 782.7M646.5 787.1L644.8 785.0M644.4 789.4L642.7 787.4M642.3 791.8L640.5 789.8M640.1 794.2L637.8 792.0M637.4 796.4L635.4 794.7M635.0 799.1L632.3 797.1M631.9 801.6L628.5 799.4M628.0 803.9L624.2 801.8M623.7 806.3L618.8 804.1M618.1 808.7L612.6 806.6M611.9 811.1L605.2 809.0M604.4 813.6L595.1 811.2M594.4 815.8L578.1 813.6M577.4 818.4L568.3 818.4M567.6 813.6L551.4 815.9M550.7 811.3L542.9 813.4M542.3 808.9L536.7 811.0M536.0 806.4L531.6 808.5M531.0 804.0L527.3 806.1M526.6 801.6L523.0 803.8M522.4 799.4L519.4 801.4M518.8 797.0L516.0 799.0M515.4 794.6L512.7 796.6M512.2 792.3L509.7 794.3M509.2 789.9L506.9 791.9M506.5 787.5L504.4 789.4M504.0 785.0L502.2 787.0M501.8 782.6L500.2 784.5M499.9 780.1L498.4 782.1M498.1 777.7L496.8 779.7M496.5 775.3L495.3 777.3M495.1 773.0L494.0 775.0M493.8 770.7L493.0 772.4M492.8 768.0L491.8 770.2M491.7 765.8L490.9 767.6M490.8 763.3L489.9 765.6M489.8 761.3L489.2 763.2M489.0 758.8L488.5 760.8M488.4 756.4L488.1 757.9M487.9 753.6L487.6 755.6M487.5 751.3L487.1 753.3M487.1 749.0L486.8 751.1M486.7 746.8L486.5 748.4M486.5 744.1L486.3 746.2M486.2 741.9L486.1 743.6M486.1 739.3L485.9 741.5M485.9 737.2L485.7 738.9M485.7 734.6L485.6 736.3M485.5 732.1L485.4 734.4M485.4 730.1L485.3 731.9M485.2 727.7L485.1 729.5M485.1 725.3L485.0 727.2M485.0 723.0L485.0 724.3M485.0 720.1L484.9 722.0M484.9 717.8L484.9 719.8M484.9 715.6L484.9 717.5M484.8 713.4L484.8 714.7M484.9 710.5L484.9 712.5M484.9 708.3L484.9 710.2M484.9 706.1L485.0 708.0M485.0 703.8L485.0 705.1M485.0 700.9L485.1 702.7M485.1 698.6L485.2 700.4M485.3 696.2L485.4 697.9M485.4 693.7L485.5 696.0M485.6 691.7L485.7 693.4M485.7 689.2L485.9 690.8M485.9 686.6L486.1 688.8M486.1 684.5L486.2 686.1M486.3 681.9L486.5 684.0M486.5 679.7L486.7 681.3M486.8 677.0L487.1 679.0M487.1 674.7L487.5 676.8M487.6 672.5L487.8 674.0M487.9 669.7L488.4 671.6M488.5 667.3L489.0 669.2M489.2 664.9L489.8 666.8M489.9 662.5L490.8 664.8M491.0 660.5L491.7 662.3M491.9 657.9L492.8 659.7M493.0 655.4L494.1 657.6M494.4 653.2L495.3 654.9M495.6 650.6L496.9 652.7M497.1 648.3L498.5 650.3M498.8 645.9L500.2 647.9M500.5 643.5L502.1 645.4M502.4 641.0L504.3 643.2M504.6 638.7L506.3 640.5M506.6 636.0L508.8 638.1M509.2 633.6L511.8 635.9M512.2 631.4L515.0 633.6M515.4 629.1L518.3 631.1M518.8 626.6L522.3 628.7M522.7 624.2L526.8 626.4M527.2 621.8L531.9 623.9M532.4 619.3L538.6 621.5M539.1 616.9L548.4 619.2M548.9 614.5L561.5 615.7" stroke-opacity=".33"/>
<path d="M561.5 642.1L577.8 640.9M578.3 645.6L587.8 643.3M588.3 648.0L594.5 645.6M594.9 650.2L599.0 648.2M599.4 652.8L603.3 650.4M603.7 654.9L606.6 652.9M607.0 657.4L609.9 655.2M610.3 659.7L612.6 657.8M613.0 662.2L615.3 660.2M615.6 664.7L617.8 662.6M618.2 667.0L620.4 664.9M620.7 669.3L622.5 667.4M622.8 671.8L624.6 669.9M624.9 674.3L626.6 672.2M627.0 676.6L628.6 674.5M628.9 678.9L630.1 677.2M630.4 681.6L631.9 679.4M632.2 683.8L633.3 682.0M633.5 686.3L634.8 684.1M635.0 688.4L635.9 686.6M636.1 690.9L636.9 689.0M637.1 693.3L637.8 691.4M638.0 695.7L638.6 693.7M638.7 698.0L639.2 696.4M639.3 700.7L639.8 698.6M639.9 702.9L640.4 700.8M640.5 705.1L640.8 703.5M640.8 707.7L641.2 705.6M641.2 709.9L641.5 708.3M641.5 712.5L641.7 710.9M641.8 715.2L642.0 713.1M642.0 717.3L642.2 715.2M642.2 719.5L642.3 717.9M642.3 722.2L642.4 720.1M642.4 724.4L642.5 722.8M642.5 727.1L642.5 725.0M642.5 729.2L642.5 727.6M642.5 731.9L642.4 729.8M642.4 734.0L642.3 732.4M642.2 736.7L642.1 734.6M642.0 738.8L641.9 737.3M641.8 741.5L641.5 739.4M641.4 743.7L641.1 741.7M641.0 746.0L640.7 744.5M640.5 748.8L640.1 746.8M639.9 751.1L639.4 749.2M639.2 753.6L638.4 751.2M638.2 755.6L637.4 753.7M637.2 758.0L636.4 756.2M636.2 760.6L635.3 758.7M635.1 763.1L633.8 760.9M633.6 765.3L632.5 763.5M632.3 767.9L630.9 765.8M630.6 770.2L629.1 768.3M628.8 772.7L626.9 770.5M626.6 774.9L624.7 772.9M624.3 777.3L621.9 775.2M621.5 779.7L618.8 777.8M618.4 782.4L614.1 780.0M613.7 784.6L608.8 782.4M608.3 787.0L602.7 784.9M602.3 789.5L596.1 787.3M595.7 792.0L585.7 789.6M585.4 794.4L572.7 794.4M572.2 789.6L558.5 791.9M558.1 787.3L552.6 789.5M552.2 784.9L548.3 787.1M547.9 782.5L544.5 784.8M544.1 780.2L541.6 782.2M541.2 777.7L538.7 779.7M538.4 775.2L536.1 777.3M535.7 772.8L533.6 775.0M533.3 770.5L531.3 772.7M531.0 768.2L529.3 770.2M529.1 765.7L527.5 767.7M527.3 763.3L525.8 765.4M525.6 760.9L524.2 763.1M524.0 758.7L522.9 760.5M522.7 756.1L521.7 758.1M521.5 753.7L520.6 755.8M520.4 751.4L519.6 753.6M519.4 749.2L518.8 751.0M518.7 746.7L518.2 748.6M518.0 744.3L517.6 746.3M517.5 742.0L517.1 743.5M517.0 739.2L516.7 741.3M516.6 737.0L516.2 739.2M516.1 734.9L515.9 736.5M515.8 732.3L515.6 733.9M515.6 729.6L515.3 731.8M515.3 727.5L515.1 729.2M515.0 724.9L514.8 727.1M514.7 722.8L514.6 724.4M514.5 720.1L514.3 722.2M514.3 717.9L514.1 719.5M514.1 715.2L513.9 717.3M513.8 713.1L513.7 715.2M513.7 710.9L513.5 712.5M513.5 708.3L513.4 709.9M513.4 705.6L513.3 707.7M513.3 703.5L513.2 705.1M513.2 700.8L513.2 702.9M513.1 698.6L513.1 700.7M513.1 696.4L513.1 698.0M513.1 693.7L513.2 695.7M513.2 691.4L513.3 693.3M513.3 689.0L513.4 690.9M513.4 686.6L513.5 688.4M513.6 684.1L513.8 686.3M513.8 682.0L513.9 683.8M514.0 679.4L514.2 681.2M514.2 676.9L514.5 679.0M514.6 674.6L514.9 676.7M515.0 672.3L515.4 674.4M515.5 670.0L516.0 671.9M516.1 667.5L516.7 669.4M516.8 664.9L517.7 667.1M517.9 662.6L518.9 664.6M519.1 660.1L520.5 662.3M520.7 657.8L522.2 659.8M522.4 655.3L524.4 657.4M524.6 652.9L527.1 655.1M527.4 650.5L530.5 652.7M530.8 648.1L534.7 650.2M535.1 645.6L541.0 647.9M541.4 643.3L550.0 645.6M550.5 640.9L561.5 642.1" stroke-opacity=".31"/>
<path d="M574.0 662.9L578.0 662.4M578.3 667.2L586.4 664.9M586.7 669.5L591.1 667.3M591.4 671.9L594.5 669.8M594.8 674.4L597.8 672.2M598.1 676.7L600.8 674.5M601.1 679.0L603.5 676.8M603.8 681.3L605.7 679.3M606.0 683.7L607.5 681.9M607.8 686.4L609.5 684.1M609.7 688.5L611.0 686.5M611.2 690.9L612.2 689.2M612.4 693.5L613.3 691.6M613.6 696.0L614.4 694.0M614.7 698.2L615.5 696.2M615.7 700.4L616.3 698.8M616.5 703.1L617.3 700.9M617.4 705.1L618.0 703.4M618.1 707.7L618.6 706.0M618.8 710.2L619.3 708.0M619.5 712.3L619.9 710.6M620.0 714.9L620.3 713.3M620.4 717.6L620.8 715.5M620.9 719.8L621.1 717.9M621.2 722.2L621.4 720.4M621.4 724.7L621.5 722.4M621.5 726.8L621.4 725.0M621.4 729.4L621.2 727.2M621.2 731.6L621.0 729.9M620.9 734.3L620.6 732.2M620.5 736.6L620.0 734.6M620.0 739.0L619.4 737.0M619.3 741.4L618.7 739.5M618.6 743.9L617.9 741.7M617.7 746.1L617.0 744.3M616.9 748.7L616.0 746.6M615.8 751.0L614.8 748.9M614.7 753.4L613.6 751.4M613.4 755.9L612.0 753.6M611.7 758.1L610.4 756.3M610.2 760.8L608.3 758.5M608.0 763.1L605.9 761.0M605.6 765.6L602.6 763.4M602.2 767.9L598.2 765.8M597.9 770.4L592.0 768.0M591.6 772.7L573.7 772.7M573.4 768.0L569.7 770.3M569.4 765.7L566.3 767.9M566.0 763.3L563.4 765.4M563.1 760.9L560.8 763.0M560.4 758.5L558.0 760.7M557.7 756.3L555.7 758.3M555.4 753.8L553.5 755.9M553.2 751.5L551.4 753.6M551.2 749.1L549.6 751.2M549.4 746.7L548.0 748.7M547.8 744.3L546.6 746.3M546.4 741.9L545.3 743.9M545.1 739.4L544.1 741.5M543.9 737.1L543.2 738.9M543.0 734.4L542.2 736.6M542.1 732.2L541.5 734.1M541.3 729.6L540.7 732.0M540.5 727.6L540.0 729.6M539.9 725.2L539.5 726.9M539.4 722.5L538.9 724.7M538.8 720.4L538.4 722.2M538.4 717.9L538.0 719.8M538.0 715.5L537.7 717.4M537.6 713.1L537.3 715.1M537.3 710.8L537.1 712.8M537.0 708.4L536.8 710.4M536.8 706.1L536.7 708.0M536.7 703.7L536.6 705.5M536.6 701.2L536.6 703.0M536.6 698.6L536.7 700.8M536.7 696.4L536.9 698.0M536.9 693.6L537.2 695.7M537.2 691.3L537.6 693.3M537.7 688.9L538.1 690.9M538.2 686.5L538.7 688.4M538.8 684.0L539.5 686.2M539.6 681.8L540.4 683.8M540.6 679.4L541.5 681.6M541.7 677.1L542.7 679.1M542.9 674.5L544.4 676.6M544.5 672.1L546.7 674.3M546.9 669.7L550.3 671.9M550.5 667.2L555.6 669.5M555.9 664.8L564.3 667.2M564.6 662.4L574.0 662.9" stroke-opacity=".29"/>
</g>
<mask id="hm2" maskUnits="userSpaceOnUse" x="1010" y="520" width="380" height="420"><path d="M1224.4 595.3C1232.6 595.2 1239.4 596.3 1246.1 599.6C1252.8 603.0 1259.6 608.9 1264.7 615.5C1269.9 622.1 1274.1 630.2 1277.2 639.4C1280.3 648.6 1282.2 660.1 1283.4 670.5C1284.5 680.8 1284.0 691.2 1284.0 701.5C1284.0 711.9 1283.9 722.5 1283.4 732.6C1282.9 742.7 1283.0 753.3 1280.9 762.1C1278.8 770.9 1275.0 778.5 1271.0 785.4C1266.9 792.3 1261.8 798.1 1256.7 803.4C1251.5 808.8 1245.4 813.3 1239.9 817.4C1234.3 821.6 1229.1 825.0 1223.4 828.3C1217.7 831.6 1211.3 834.8 1205.7 837.3C1200.1 839.8 1195.3 841.2 1189.9 843.2C1184.4 845.2 1178.6 847.7 1173.1 849.1C1167.6 850.5 1162.3 851.6 1156.6 851.6C1150.9 851.6 1144.5 850.5 1138.9 849.1C1133.4 847.7 1128.3 846.0 1123.4 843.2C1118.5 840.4 1113.6 835.9 1109.4 832.0C1105.2 828.1 1101.6 824.6 1098.2 819.9C1094.9 815.2 1092.0 809.6 1089.2 804.1C1086.5 798.5 1084.1 792.4 1081.8 786.7C1079.4 781.0 1077.1 775.4 1075.2 769.9C1073.4 764.3 1071.8 759.6 1070.6 753.4C1069.3 747.2 1068.1 740.2 1067.8 732.6C1067.4 725.0 1067.4 717.1 1068.4 707.8C1069.4 698.4 1070.7 686.0 1073.7 676.7C1076.6 667.4 1080.7 659.0 1086.1 651.8C1091.5 644.7 1098.3 638.6 1106.3 633.8C1114.3 629.0 1124.4 626.8 1134.3 622.9C1144.1 619.1 1155.0 614.7 1165.3 610.8C1175.7 607.0 1186.6 602.5 1196.4 600.0C1206.2 597.4 1216.1 595.3 1224.4 595.3Z" fill="#fff" filter="url(#bl3)"/></mask>
<g mask="url(#hm2)">
<rect x="1010" y="520" width="380" height="420" fill="#ffd272"/>
<g filter="url(#bl10)">
<path d="M1215.0 614.6C1223.3 614.3 1228.0 616.1 1233.7 619.2C1239.4 622.3 1244.8 626.7 1249.2 633.2C1253.6 639.7 1257.4 649.2 1260.1 658.0C1262.8 666.9 1264.3 676.7 1265.4 686.0C1266.4 695.3 1267.2 704.1 1266.3 714.0C1265.4 723.8 1263.4 734.7 1260.1 745.0C1256.7 755.4 1252.1 766.8 1246.1 776.1C1240.1 785.4 1232.6 793.4 1224.4 801.0C1216.1 808.5 1206.2 815.7 1196.4 821.1C1186.6 826.6 1173.6 831.5 1165.3 833.6C1157.0 835.6 1152.9 835.1 1146.7 833.6C1140.5 832.0 1134.8 829.2 1128.0 824.2C1121.3 819.3 1112.5 812.1 1106.3 804.1C1100.1 796.0 1094.9 785.9 1090.8 776.1C1086.6 766.3 1083.4 755.4 1081.5 745.0C1079.5 734.7 1078.7 723.8 1079.0 714.0C1079.2 704.1 1080.0 694.8 1083.0 686.0C1086.0 677.2 1091.0 668.1 1097.0 661.2C1102.9 654.2 1109.9 649.0 1118.7 644.1C1127.5 639.2 1138.9 635.5 1149.8 631.6C1160.7 627.8 1173.1 623.6 1184.0 620.8C1194.8 617.9 1206.7 614.8 1215.0 614.6Z" fill="#ffac22"/>
<path d="M1193.3 661.8C1200.0 662.3 1206.7 662.8 1211.9 665.8C1217.1 668.8 1220.7 673.8 1224.4 679.8C1228.0 685.7 1231.2 693.3 1233.7 701.5C1236.2 709.8 1239.0 720.2 1239.3 729.5C1239.5 738.8 1238.2 748.7 1235.2 757.5C1232.2 766.3 1227.2 775.3 1221.2 782.3C1215.3 789.3 1207.3 795.2 1199.5 799.4C1191.7 803.6 1181.9 806.5 1174.6 807.8C1167.4 809.1 1162.2 809.1 1156.0 807.2C1149.8 805.2 1143.6 801.5 1137.4 796.3C1131.2 791.1 1123.5 783.6 1118.7 776.1C1114.0 768.6 1110.9 759.5 1108.8 751.2C1106.7 743.0 1105.9 734.7 1106.3 726.4C1106.7 718.1 1107.9 709.0 1111.0 701.5C1114.1 694.0 1119.0 686.8 1124.9 681.3C1130.9 675.9 1138.9 672.0 1146.7 668.9C1154.5 665.8 1163.8 663.9 1171.5 662.7C1179.3 661.5 1186.6 661.3 1193.3 661.8Z" fill="#ff8e0a"/>
<path d="M1177.8 689.7C1184.0 690.3 1191.0 691.8 1196.4 695.3C1201.8 698.8 1206.9 704.6 1210.4 710.9C1213.9 717.1 1216.7 725.4 1217.5 732.6C1218.3 739.9 1217.5 747.6 1215.0 754.4C1212.5 761.1 1207.8 767.8 1202.6 773.0C1197.4 778.2 1190.2 782.9 1184.0 785.4C1177.8 787.9 1171.5 788.9 1165.3 787.9C1159.1 786.9 1151.9 783.8 1146.7 779.2C1141.5 774.6 1137.3 767.3 1134.3 760.6C1131.3 753.8 1129.1 746.1 1128.7 738.8C1128.3 731.6 1129.3 723.5 1131.8 717.1C1134.3 710.6 1139.0 704.1 1143.6 700.0C1148.1 695.8 1153.4 693.9 1159.1 692.2C1164.8 690.5 1171.5 689.2 1177.8 689.7Z" fill="#ff7604"/>
<ellipse cx="1174.6" cy="738.8" rx="26" ry="36" fill="#ff6400"/>
</g></g>
<g fill="none" stroke="#7a4a22" stroke-width="1.35" stroke-linecap="round">
<path d="M1221.2 571.6L1229.3 571.2M1229.7 576.0L1241.5 573.7M1241.9 578.3L1247.7 576.2M1248.0 580.8L1252.7 578.4M1253.0 583.0L1256.4 581.0M1256.8 585.5L1260.1 583.2M1260.5 587.8L1262.9 585.8M1263.3 590.4L1265.9 588.0M1266.3 592.5L1268.2 590.7M1268.5 595.2L1270.6 592.9M1270.8 597.4L1272.6 595.3M1272.8 599.8L1274.5 597.7M1274.7 602.1L1276.0 600.2M1276.3 604.7L1277.5 602.8M1277.8 607.2L1279.3 604.8M1279.5 609.2L1280.4 607.6M1280.7 612.0L1281.8 610.0M1282.0 614.3L1283.2 612.3M1283.4 616.6L1284.5 614.5M1284.7 618.9L1285.5 617.1M1285.7 621.5L1286.7 619.3M1286.9 623.6L1287.7 621.8M1287.9 626.1L1288.7 624.3M1288.8 628.6L1289.6 626.7M1289.8 631.1L1290.5 629.2M1290.6 633.5L1291.3 631.6M1291.5 635.9L1292.1 633.9M1292.3 638.3L1292.9 636.3M1293.1 640.6L1293.7 638.6M1293.8 643.0L1294.4 641.0M1294.5 645.3L1295.1 643.3M1295.2 647.6L1295.6 646.0M1295.8 650.3L1296.3 648.3M1296.4 652.5L1296.9 650.4M1297.0 654.7L1297.4 653.1M1297.5 657.4L1297.9 655.3M1298.0 659.6L1298.3 658.0M1298.5 662.2L1298.8 660.1M1298.9 664.4L1299.2 662.8M1299.3 667.1L1299.6 665.0M1299.7 669.3L1300.0 667.2M1300.0 671.5L1300.2 670.0M1300.3 674.3L1300.5 672.3M1300.6 676.6L1300.7 674.7M1300.8 679.0L1300.9 677.1M1300.9 681.5L1301.0 679.6M1301.0 684.0L1301.1 681.7M1301.1 686.0L1301.1 684.2M1301.1 688.5L1301.1 686.7M1301.1 691.1L1301.1 688.8M1301.1 693.2L1301.0 691.3M1301.0 695.7L1300.9 693.8M1300.8 698.1L1300.7 696.2M1300.7 700.6L1300.5 698.6M1300.5 702.9L1300.3 701.0M1300.3 705.3L1300.1 703.3M1300.1 707.6L1299.9 706.0M1299.8 710.3L1299.6 708.3M1299.6 712.6L1299.3 710.5M1299.2 714.8L1299.0 713.2M1298.9 717.5L1298.6 715.4M1298.6 719.7L1298.3 718.1M1298.2 722.4L1297.9 720.3M1297.8 724.5L1297.4 722.4M1297.3 726.7L1297.0 725.1M1296.9 729.4L1296.5 727.3M1296.4 731.6L1296.0 730.0M1295.9 734.3L1295.4 732.2M1295.3 736.5L1294.8 734.5M1294.7 738.7L1294.3 737.2M1294.2 741.5L1293.7 739.4M1293.5 743.7L1293.0 741.6M1292.9 745.9L1292.4 744.3M1292.3 748.6L1291.7 746.5M1291.5 750.8L1291.0 749.3M1290.9 753.6L1290.2 751.5M1290.1 755.8L1289.4 753.7M1289.2 758.0L1288.6 756.4M1288.5 760.7L1287.7 758.6M1287.5 762.9L1286.7 760.8M1286.5 765.1L1285.9 763.6M1285.6 767.8L1284.8 765.7M1284.5 770.0L1283.9 768.4M1283.6 772.7L1282.7 770.5M1282.5 774.8L1281.8 773.2M1281.5 777.5L1280.5 775.3M1280.3 779.6L1279.5 778.0M1279.2 782.3L1278.2 780.2M1277.9 784.4L1277.1 782.9M1276.8 787.2L1275.7 785.1M1275.4 789.4L1274.3 787.4M1274.0 791.7L1272.8 789.7M1272.5 794.0L1271.3 792.1M1271.0 796.5L1269.7 794.6M1269.4 799.0L1268.1 797.1M1267.7 801.5L1266.0 799.3M1265.7 803.6L1264.3 801.9M1263.9 806.3L1262.1 804.1M1261.8 808.5L1259.9 806.4M1259.5 810.8L1257.7 808.8M1257.3 813.2L1255.4 811.2M1255.0 815.6L1253.1 813.7M1252.7 818.1L1250.8 816.3M1250.4 820.7L1248.0 818.5M1247.6 823.0L1245.3 820.9M1244.9 825.4L1242.5 823.4M1242.1 827.9L1239.2 825.6M1238.8 830.1L1235.9 828.0M1235.5 832.5L1232.6 830.4M1232.1 834.9L1229.1 832.9M1228.7 837.4L1225.7 835.4M1225.2 839.9L1221.7 837.7M1221.2 842.2L1218.0 840.2M1217.5 844.8L1213.7 842.6M1213.2 847.1L1209.4 845.0M1208.9 849.5L1204.7 847.3M1204.2 851.8L1200.0 849.7M1199.5 854.2L1195.5 852.2M1195.1 856.8L1190.3 854.4M1189.9 859.0L1185.2 856.8M1184.8 861.4L1179.9 859.3M1179.5 863.9L1173.5 861.6M1173.1 866.3L1165.5 864.0M1165.2 868.7L1137.3 868.7M1137.0 864.0L1130.3 866.3M1130.0 861.7L1125.3 863.8M1124.9 859.2L1120.3 861.6M1119.9 857.0L1116.5 858.9M1116.1 854.4L1112.6 856.6M1112.2 852.0L1108.8 854.4M1108.4 849.9L1106.0 851.8M1105.6 847.3L1102.8 849.6M1102.4 845.1L1100.5 846.9M1100.1 842.5L1097.8 844.7M1097.4 840.3L1095.5 842.2M1095.2 837.8L1093.3 839.8M1092.9 835.5L1091.1 837.6M1090.7 833.2L1089.3 834.9M1088.9 830.5L1087.2 832.7M1086.8 828.4L1085.5 830.2M1085.1 825.8L1083.8 827.7M1083.4 823.3L1082.1 825.2M1081.8 820.8L1080.2 823.2M1079.8 818.9L1078.9 820.3M1078.6 816.0L1077.3 818.0M1077.0 813.7L1075.7 815.8M1075.4 811.5L1074.2 813.6M1073.9 809.3L1073.0 810.9M1072.7 806.6L1071.6 808.7M1071.3 804.4L1070.4 806.0M1070.1 801.8L1069.0 803.9M1068.8 799.7L1068.0 801.3M1067.7 797.0L1066.7 799.1M1066.5 794.8L1065.7 796.4M1065.5 792.2L1064.6 794.3M1064.4 790.0L1063.7 791.5M1063.5 787.2L1062.7 789.3M1062.5 785.0L1061.8 787.0M1061.6 782.8L1060.9 784.8M1060.7 780.5L1060.2 782.0M1060.0 777.7L1059.4 779.8M1059.3 775.5L1058.7 777.5M1058.5 773.2L1058.1 774.8M1058.0 770.5L1057.4 772.6M1057.3 768.3L1056.8 770.4M1056.7 766.1L1056.3 767.7M1056.1 763.4L1055.7 765.5M1055.5 761.3L1055.2 762.9M1055.0 758.6L1054.7 760.3M1054.6 756.0L1054.1 758.3M1054.0 754.0L1053.6 755.7M1053.5 751.5L1053.2 753.2M1053.1 749.0L1052.8 750.7M1052.7 746.5L1052.4 748.2M1052.3 744.0L1051.9 746.3M1051.8 742.1L1051.5 743.9M1051.4 739.6L1051.2 741.4M1051.1 737.2L1050.9 738.9M1050.8 734.7L1050.6 736.4M1050.5 732.2L1050.3 733.9M1050.3 729.7L1050.0 731.9M1050.0 727.7L1049.8 729.3M1049.8 725.1L1049.7 726.7M1049.7 722.4L1049.5 724.6M1049.5 720.3L1049.4 721.9M1049.4 717.6L1049.4 719.7M1049.3 715.4L1049.3 717.5M1049.3 713.2L1049.3 714.8M1049.3 710.5L1049.4 712.5M1049.4 708.2L1049.4 710.3M1049.5 706.0L1049.5 707.5M1049.5 703.2L1049.7 705.3M1049.7 701.0L1049.8 703.0M1049.9 698.7L1050.1 700.8M1050.1 696.5L1050.3 698.0M1050.3 693.8L1050.6 695.8M1050.6 691.5L1050.8 693.1M1050.9 688.8L1051.2 690.9M1051.2 686.7L1051.6 688.8M1051.6 684.5L1051.9 686.1M1052.0 681.8L1052.4 683.9M1052.5 679.6L1052.8 681.2M1052.9 676.9L1053.3 679.0M1053.4 674.7L1053.7 676.3M1053.9 672.0L1054.4 674.1M1054.5 669.8L1055.0 671.8M1055.1 667.5L1055.7 669.6M1055.8 665.3L1056.3 666.8M1056.4 662.4L1057.1 664.4M1057.2 660.1L1057.9 662.1M1058.1 657.8L1058.8 659.8M1058.9 655.5L1059.7 657.4M1059.9 653.1L1060.6 655.1M1060.8 650.8L1061.6 652.7M1061.8 648.4L1062.7 650.3M1062.9 646.0L1063.7 647.9M1064.0 643.5L1064.9 645.3M1065.1 641.0L1066.3 643.2M1066.5 638.8L1067.5 640.5M1067.8 636.1L1069.0 638.1M1069.3 633.7L1070.9 635.9M1071.1 631.5L1072.8 633.5M1073.0 629.1L1074.7 631.0M1075.0 626.5L1077.1 628.7M1077.4 624.2L1079.6 626.2M1079.9 621.7L1082.5 624.0M1082.9 619.5L1085.4 621.4M1085.8 616.9L1088.8 619.2M1089.2 614.7L1092.1 616.6M1092.6 612.1L1096.1 614.3M1096.5 609.7L1100.2 611.8M1100.7 607.3L1105.0 609.6M1105.5 605.0L1109.5 607.0M1110.0 602.5L1114.6 604.6M1115.1 600.0L1120.4 602.3M1121.0 597.7L1126.6 599.8M1127.1 595.2L1133.5 597.5M1134.1 592.9L1140.5 595.1M1141.1 590.5L1147.5 592.7M1148.1 588.1L1153.8 590.2M1154.3 585.6L1159.9 587.9M1160.5 583.3L1165.6 585.4M1166.1 580.8L1171.8 583.0M1172.3 578.4L1179.3 580.7M1179.8 576.1L1190.1 578.4M1190.8 573.7L1210.3 576.0M1210.9 571.2L1221.2 571.6" stroke-opacity=".46"/>
<path d="M1215.0 616.6L1228.7 614.4M1229.0 619.1L1233.4 616.9M1233.7 621.6L1237.3 619.4M1237.6 624.0L1240.6 621.8M1240.9 626.4L1243.5 624.0M1243.7 628.6L1245.7 626.5M1246.0 631.0L1247.6 629.0M1247.9 633.5L1249.4 631.3M1249.6 635.7L1250.9 633.7M1251.1 638.1L1252.2 636.2M1252.4 640.6L1253.4 638.6M1253.6 643.0L1254.5 641.0M1254.7 645.3L1255.5 643.6M1255.6 648.0L1256.5 645.8M1256.7 650.2L1257.4 648.4M1257.5 652.7L1258.3 650.5M1258.5 654.8L1259.1 653.1M1259.2 657.4L1259.8 655.6M1259.9 660.0L1260.6 657.8M1260.7 662.1L1261.2 660.3M1261.3 664.7L1261.8 662.8M1261.9 667.2L1262.4 664.9M1262.5 669.2L1262.9 667.3M1263.0 671.7L1263.3 669.8M1263.4 674.1L1263.7 672.2M1263.8 676.5L1264.1 674.6M1264.2 679.0L1264.5 677.1M1264.5 681.4L1264.8 679.5M1264.9 683.8L1265.1 681.9M1265.1 686.3L1265.4 684.4M1265.4 688.7L1265.7 686.4M1265.7 690.7L1265.9 688.9M1265.9 693.2L1266.1 691.4M1266.1 695.8L1266.3 693.9M1266.3 698.3L1266.4 696.4M1266.5 700.8L1266.6 698.5M1266.6 702.8L1266.7 701.0M1266.7 705.3L1266.7 703.4M1266.7 707.8L1266.6 705.9M1266.6 710.2L1266.6 708.3M1266.5 712.6L1266.4 710.7M1266.4 715.0L1266.2 713.0M1266.2 717.3L1265.9 715.4M1265.9 719.6L1265.6 717.6M1265.6 721.9L1265.3 720.4M1265.3 724.7L1265.0 722.6M1264.9 726.9L1264.6 725.3M1264.5 729.6L1264.1 727.5M1264.0 731.8L1263.6 729.7M1263.5 733.9L1263.1 732.4M1263.0 736.6L1262.5 734.5M1262.3 738.8L1261.9 737.2M1261.8 741.5L1261.2 739.4M1261.0 743.7L1260.4 741.6M1260.2 745.9L1259.7 744.3M1259.6 748.6L1258.8 746.5M1258.7 750.8L1258.1 749.2M1257.9 753.5L1257.1 751.3M1256.9 755.6L1256.3 754.0M1256.1 758.2L1255.2 756.1M1255.0 760.4L1254.3 758.8M1254.1 763.0L1253.1 760.9M1252.9 765.2L1252.1 763.6M1251.9 767.9L1250.8 765.9M1250.6 770.1L1249.5 768.1M1249.2 772.4L1248.1 770.4M1247.8 774.8L1246.7 772.8M1246.4 777.2L1245.2 775.3M1244.9 779.7L1243.6 777.8M1243.3 782.2L1242.0 780.4M1241.7 784.8L1240.0 782.6M1239.7 787.0L1237.9 784.9M1237.5 789.3L1236.1 787.6M1235.7 792.0L1233.9 790.0M1233.5 794.4L1231.6 792.4M1231.2 796.8L1228.8 794.4M1228.4 798.8L1226.4 796.9M1226.0 801.4L1223.9 799.5M1223.5 803.9L1221.0 801.7M1220.5 806.1L1218.3 804.3M1217.9 808.7L1215.1 806.5M1214.7 811.0L1211.9 808.9M1211.4 813.3L1208.6 811.3M1208.1 815.8L1205.2 813.8M1204.7 818.3L1201.3 816.1M1200.8 820.6L1197.4 818.6M1196.9 823.1L1192.8 821.0M1192.3 825.5L1187.5 823.2M1186.9 827.8L1181.9 825.6M1181.4 830.2L1175.9 828.1M1175.4 832.8L1168.4 830.5M1167.9 835.1L1144.2 835.1M1143.9 830.4L1138.2 832.7M1137.9 828.1L1133.9 830.3M1133.6 825.7L1130.0 827.9M1129.7 823.4L1126.7 825.6M1126.3 821.0L1123.8 823.0M1123.4 818.5L1120.8 820.6M1120.4 816.1L1118.1 818.1M1117.7 813.6L1115.5 815.7M1115.1 811.2L1112.8 813.4M1112.5 809.0L1110.7 810.9M1110.3 806.4L1108.2 808.8M1107.9 804.4L1106.3 806.3M1106.0 801.9L1104.8 803.6M1104.5 799.2L1103.0 801.4M1102.7 797.0L1101.6 798.8M1101.3 794.4L1099.9 796.7M1099.6 792.4L1098.5 794.2M1098.3 789.9L1097.2 791.8M1097.0 787.5L1096.0 789.4M1095.7 785.1L1094.8 787.0M1094.5 782.7L1093.6 784.7M1093.4 780.4L1092.5 782.4M1092.3 778.1L1091.6 779.5M1091.4 775.2L1090.6 777.2M1090.4 772.9L1089.6 774.9M1089.4 770.6L1088.6 772.6M1088.4 768.3L1087.7 770.4M1087.5 766.1L1087.0 767.6M1086.8 763.3L1086.1 765.4M1085.9 761.1L1085.5 762.7M1085.3 758.4L1084.7 760.5M1084.5 756.3L1084.0 758.4M1083.8 754.1L1083.4 755.7M1083.3 751.4L1082.8 753.5M1082.7 749.2L1082.3 750.8M1082.2 746.5L1081.8 748.6M1081.7 744.3L1081.4 745.9M1081.3 741.6L1080.9 743.7M1080.8 739.4L1080.5 741.5M1080.4 737.2L1080.2 738.8M1080.1 734.5L1079.9 736.6M1079.8 732.4L1079.7 733.9M1079.6 729.7L1079.4 731.8M1079.4 727.5L1079.2 729.6M1079.2 725.3L1079.1 726.9M1079.1 722.6L1079.0 724.7M1079.0 720.4L1078.9 721.9M1078.9 717.6L1078.9 719.6M1078.9 715.4L1078.9 717.3M1078.9 713.0L1079.0 715.0M1079.0 710.7L1079.1 712.7M1079.1 708.3L1079.2 710.3M1079.2 706.0L1079.3 707.9M1079.4 703.5L1079.5 705.4M1079.6 701.1L1079.8 703.0M1079.8 698.7L1080.1 700.5M1080.1 696.2L1080.4 698.0M1080.5 693.7L1080.9 696.0M1081.0 691.6L1081.5 693.4M1081.6 689.1L1082.0 690.9M1082.2 686.5L1082.9 688.8M1083.0 684.4L1083.6 686.2M1083.8 681.8L1084.5 683.6M1084.7 679.2L1085.6 681.4M1085.8 677.0L1086.6 678.8M1086.9 674.4L1088.0 676.6M1088.2 672.2L1089.4 674.3M1089.6 670.0L1090.6 671.6M1090.9 667.2L1092.2 669.3M1092.4 664.9L1094.1 667.2M1094.4 662.8L1095.8 664.6M1096.1 660.2L1097.9 662.3M1098.2 657.8L1100.1 659.8M1100.4 655.3L1102.6 657.5M1103.0 653.0L1105.4 655.0M1105.7 650.5L1108.6 652.7M1109.0 648.2L1112.1 650.3M1112.5 645.8L1115.7 647.8M1116.1 643.2L1120.1 645.5M1120.5 640.9L1125.3 643.2M1125.8 638.6L1130.9 640.7M1131.4 636.1L1137.2 638.3M1137.8 633.7L1143.8 635.8M1144.3 631.2L1150.9 633.5M1151.4 628.9L1157.6 631.1M1158.2 626.5L1164.6 628.6M1165.1 624.0L1172.1 626.2M1172.7 621.6L1180.7 623.9M1181.2 619.3L1189.5 621.5M1190.0 616.8L1199.9 619.2M1200.5 614.5L1215.0 616.6" stroke-opacity=".33"/>
<path d="M1193.3 660.6L1200.0 660.0M1200.3 664.8L1209.8 662.5M1210.1 667.1L1213.9 664.9M1214.2 669.5L1216.6 667.3M1216.9 671.9L1218.9 669.7M1219.1 674.2L1220.7 672.2M1220.9 676.7L1222.3 674.6M1222.5 679.1L1223.8 677.1M1224.0 681.6L1225.2 679.5M1225.4 684.0L1226.6 681.7M1226.8 686.2L1227.8 684.2M1228.0 688.6L1229.0 686.5M1229.1 690.9L1229.9 689.1M1230.1 693.5L1231.0 691.3M1231.1 695.7L1231.8 693.7M1232.0 698.1L1232.6 696.1M1232.8 700.5L1233.4 698.5M1233.5 702.9L1234.0 701.2M1234.2 705.6L1234.8 703.4M1234.9 707.8L1235.4 706.0M1235.6 710.3L1236.0 708.5M1236.2 712.8L1236.8 710.5M1236.9 714.8L1237.3 712.9M1237.4 717.2L1237.8 715.3M1237.9 719.6L1238.3 717.6M1238.3 722.0L1238.6 720.0M1238.7 724.4L1238.9 722.4M1239.0 726.8L1239.1 724.8M1239.2 729.2L1239.3 727.3M1239.3 731.6L1239.3 729.8M1239.3 734.1L1239.3 732.2M1239.2 736.5L1239.2 734.6M1239.1 739.0L1239.0 737.1M1239.0 741.4L1238.8 739.5M1238.7 743.8L1238.5 741.9M1238.4 746.3L1238.1 744.4M1238.0 748.7L1237.7 746.8M1237.6 751.2L1237.1 748.9M1236.9 753.2L1236.5 751.4M1236.3 755.7L1235.8 753.9M1235.7 758.3L1234.9 756.1M1234.8 760.4L1234.1 758.7M1233.9 763.0L1233.0 760.8M1232.8 765.2L1232.0 763.4M1231.8 767.8L1230.7 765.6M1230.5 770.0L1229.6 768.3M1229.3 772.6L1228.1 770.5M1227.9 774.9L1226.6 772.9M1226.3 777.3L1225.0 775.3M1224.7 779.7L1223.3 777.8M1223.0 782.2L1221.2 780.1M1220.9 784.5L1219.1 782.5M1218.8 787.0L1216.8 785.0M1216.4 789.5L1214.0 787.3M1213.6 791.8L1211.1 789.7M1210.7 794.2L1207.6 792.0M1207.3 796.6L1204.2 794.5M1203.8 799.1L1199.9 796.8M1199.5 801.4L1195.0 799.2M1194.6 803.8L1189.1 801.6M1188.6 806.3L1181.3 804.1M1180.9 808.8L1153.8 808.8M1153.5 804.1L1148.6 806.4M1148.2 801.8L1144.5 804.0M1144.2 799.4L1141.1 801.6M1140.8 797.0L1138.0 799.2M1137.7 794.7L1135.5 796.5M1135.1 792.0L1132.5 794.4M1132.2 789.9L1130.2 791.8M1129.8 787.4L1127.8 789.4M1127.5 784.9L1125.6 787.0M1125.2 782.6L1123.4 784.8M1123.1 780.3L1121.6 782.2M1121.3 777.8L1120.0 779.6M1119.7 775.2L1118.3 777.5M1118.0 773.0L1116.9 775.0M1116.7 770.6L1115.7 772.6M1115.5 768.2L1114.5 770.2M1114.3 765.9L1113.4 767.9M1113.2 763.6L1112.6 765.3M1112.4 760.9L1111.7 763.0M1111.5 758.6L1110.8 760.8M1110.7 756.4L1110.2 758.1M1110.0 753.7L1109.4 755.8M1109.3 751.5L1108.8 753.6M1108.7 749.2L1108.3 750.8M1108.2 746.4L1107.8 748.5M1107.7 744.1L1107.3 746.2M1107.3 741.8L1107.0 743.9M1106.9 739.5L1106.7 741.6M1106.6 737.2L1106.5 738.8M1106.5 734.5L1106.3 736.5M1106.3 732.1L1106.2 734.2M1106.2 729.8L1106.2 731.9M1106.2 727.5L1106.3 729.6M1106.3 725.2L1106.4 726.9M1106.4 722.5L1106.5 724.6M1106.6 720.2L1106.7 722.3M1106.8 718.0L1107.0 719.7M1107.0 715.3L1107.3 717.4M1107.4 713.0L1107.8 715.2M1107.8 710.8L1108.2 712.5M1108.3 708.1L1108.8 710.2M1108.9 705.8L1109.4 707.8M1109.6 703.4L1110.2 705.4M1110.4 700.9L1111.1 702.8M1111.3 698.4L1112.3 700.6M1112.5 696.2L1113.4 698.1M1113.6 693.6L1114.9 695.8M1115.1 691.3L1116.4 693.4M1116.6 689.0L1118.1 691.0M1118.3 686.6L1119.9 688.5M1120.1 684.0L1122.1 686.2M1122.3 681.7L1124.6 684.0M1124.9 679.5L1127.4 681.5M1127.8 677.0L1130.8 679.1M1131.1 674.6L1134.8 676.7M1135.1 672.1L1139.3 674.3M1139.7 669.7L1144.7 671.9M1145.1 667.2L1151.1 669.5M1151.5 664.8L1160.0 667.1M1160.4 662.4L1173.5 664.8M1173.9 660.0L1193.3 660.6" stroke-opacity=".31"/>
<path d="M1177.8 690.3L1186.4 688.9M1186.7 693.6L1193.3 691.2M1193.6 695.9L1197.2 693.7M1197.5 698.3L1200.4 696.0M1200.6 700.6L1202.9 698.4M1203.1 703.0L1205.0 700.8M1205.3 705.4L1206.8 703.4M1207.0 707.9L1208.5 705.8M1208.7 710.3L1210.0 708.2M1210.2 712.6L1211.4 710.4M1211.6 714.9L1212.6 712.8M1212.7 717.3L1213.5 715.5M1213.6 720.0L1214.5 717.7M1214.6 722.2L1215.2 720.3M1215.3 724.7L1216.0 722.5M1216.1 726.9L1216.6 725.0M1216.7 729.4L1217.0 727.5M1217.1 731.9L1217.4 729.7M1217.5 734.2L1217.7 732.3M1217.7 736.8L1217.8 734.6M1217.8 739.0L1217.8 737.1M1217.8 741.6L1217.7 739.3M1217.7 743.8L1217.5 741.9M1217.5 746.4L1217.1 744.2M1217.1 748.6L1216.7 746.4M1216.6 750.9L1216.1 749.1M1216.0 753.5L1215.4 751.5M1215.3 755.9L1214.5 753.9M1214.4 758.4L1213.3 756.0M1213.1 760.5L1212.0 758.5M1211.9 763.0L1210.7 761.0M1210.5 765.5L1209.0 763.3M1208.7 767.8L1207.1 765.6M1206.9 770.1L1205.2 768.1M1204.9 772.6L1202.9 770.5M1202.6 775.0L1200.4 773.0M1200.1 777.5L1197.5 775.3M1197.2 779.9L1194.0 777.6M1193.7 782.2L1190.4 780.2M1190.1 784.8L1185.5 782.4M1185.2 787.1L1178.7 784.8M1178.4 789.6L1162.1 789.6M1161.8 784.9L1155.6 787.1M1155.3 782.5L1151.2 784.7M1150.9 780.1L1147.8 782.3M1147.5 777.7L1145.2 779.8M1144.9 775.3L1143.0 777.5M1142.8 773.0L1141.2 775.1M1140.9 770.6L1139.7 772.5M1139.5 768.0L1138.1 770.3M1137.9 765.9L1136.7 767.9M1136.6 763.5L1135.5 765.5M1135.4 761.1L1134.4 763.1M1134.3 758.6L1133.4 760.7M1133.2 756.2L1132.4 758.3M1132.3 753.9L1131.7 755.7M1131.6 751.3L1130.9 753.4M1130.8 749.0L1130.3 750.9M1130.2 746.4L1129.7 748.6M1129.6 744.2L1129.3 746.1M1129.2 741.6L1128.9 743.9M1128.9 739.4L1128.7 741.3M1128.7 736.8L1128.6 739.0M1128.6 734.6L1128.6 736.4M1128.6 732.0L1128.7 734.3M1128.7 729.8L1128.9 731.7M1128.9 727.3L1129.2 729.5M1129.2 725.1L1129.6 726.9M1129.6 722.5L1130.1 724.7M1130.2 720.2L1130.8 722.3M1130.9 717.9L1131.5 719.9M1131.7 715.4L1132.4 717.3M1132.6 712.9L1133.7 715.1M1133.9 710.6L1134.9 712.5M1135.1 708.0L1136.5 710.2M1136.7 705.6L1138.4 708.0M1138.6 703.4L1140.4 705.6M1140.6 701.0L1142.7 703.2M1142.9 698.6L1145.4 700.8M1145.7 696.1L1149.1 698.3M1149.4 693.6L1154.7 695.9M1154.9 691.2L1162.6 693.5M1162.9 688.8L1177.8 690.3" stroke-opacity=".29"/>
</g>
<rect x="488.6" y="666.5" width="208.5" height="231.3" fill="none" stroke="#111" stroke-width="2.6"/>
<rect x="1103.1" y="666.5" width="208.5" height="231.3" fill="none" stroke="#111" stroke-width="2.6"/>
<polygon points="510.5,1024.5 675.5,1024.5 696.8,1082.3 592.5,1111.0 488.3,1082.3" fill="#ececec" stroke="#222" stroke-width="2.2" stroke-linejoin="miter"/>
<polygon points="1125.0,1024.5 1290.0,1024.5 1311.3,1082.3 1207.0,1111.0 1102.8,1082.3" fill="#ececec" stroke="#222" stroke-width="2.2" stroke-linejoin="miter"/>
</svg>

<!-- footer -->
<div class="abs" style="left:0;top:1139px;width:1800px;height:1.5px;background:#efefef"></div>
<div class="abs" style="left:30.6px;top:1156px;font-size:20.9px;line-height:26px;color:#2e2e2e;-webkit-text-stroke:.3px #2e2e2e">By: Thomas Nestico</div>
<div class="abs" style="left:65px;top:1185px;font-size:20.5px;line-height:26px;letter-spacing:-.85px;color:#2e2e2e;-webkit-text-stroke:.3px #2e2e2e">@TJStats</div>
<div class="abs" style="left:750px;top:1155px;width:383px;height:20px;border-radius:5px;background:linear-gradient(90deg,#ffffff 0%,#ffe9b8 14%,#ffc84f 36%,#ffad00 50%,#ff8c00 75%,#ff6200 100%)"></div>
<div class="abs" style="left:747.6px;top:1183px;font-size:19.2px;line-height:24px;color:#333;-webkit-text-stroke:.25px #333">Least</div>
<div class="abs" style="left:1088.4px;top:1183px;font-size:20px;line-height:24px;letter-spacing:.9px;color:#333;-webkit-text-stroke:.25px #333">Most</div>
<div class="abs" style="left:1673.6px;top:1171px;font-size:21.1px;line-height:26px;color:#2e2e2e;-webkit-text-stroke:.3px #2e2e2e">Data: MLB</div>

</body>
</html>
